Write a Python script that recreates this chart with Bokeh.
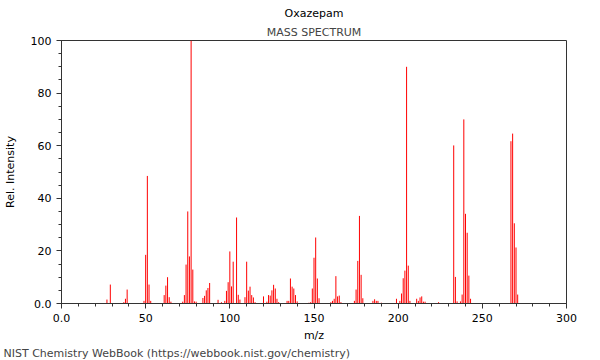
from bokeh.plotting import figure
from bokeh.models import Title, FixedTicker
from bokeh.embed import file_html
from bokeh.resources import INLINE

mz = [27, 29, 37, 38, 39, 49, 50, 51, 52, 53, 61, 62, 63, 64, 65,
      72, 73, 74, 75, 76, 77, 78, 79, 80, 84, 85, 86, 87, 88, 93, 95,
      97, 98, 99, 100, 101, 102, 104, 105, 106, 109, 110, 111, 112, 113, 114, 115,
      120, 122, 123, 124, 125, 126, 127, 128, 129, 134, 135, 136, 137, 138, 139, 140,
      147, 148, 149, 150, 151, 152, 153, 160, 161, 162, 163, 164, 165, 166,
      174, 175, 176, 177, 178, 179, 185, 186, 187, 188, 190,
      199, 201, 202, 203, 204, 205, 206, 207, 211, 212, 213, 214, 215, 216, 224,
      233, 234, 235, 237, 238, 239, 240, 241, 242, 243,
      267, 268, 269, 270, 271]
intensity = [1.5, 7.2, 0.5, 1.8, 5.3, 1.0, 18.5, 48.5, 7.2, 1.0, 3.2, 6.8, 10.0, 2.4, 0.7,
             0.7, 3.2, 14.8, 35.0, 17.9, 100, 12.9, 0.8, 0.7, 2.1, 2.9, 5.0, 5.9, 7.8, 1.4, 0.5,
             1.0, 4.8, 8.1, 19.8, 6.5, 15.9, 32.7, 3.3, 1.5, 2.4, 15.9, 4.9, 6.4, 3.2, 2.3, 0.5,
             2.7, 0.7, 3.2, 3.0, 5.0, 7.1, 5.7, 1.8, 0.5, 1.0, 1.0, 9.5, 6.4, 5.7, 3.2, 0.8,
             0.3, 0.5, 5.7, 17.4, 25.1, 9.5, 2.0, 0.5, 1.0, 1.8, 10.4, 2.7, 3.0, 0.5,
             1.0, 5.3, 16.2, 33.3, 10.9, 2.0, 1.0, 1.6, 1.0, 1.0, 0.3,
             1.8, 1.0, 3.8, 9.6, 12.5, 90.0, 14.4, 1.0, 1.8, 1.0, 2.3, 2.7, 0.7, 0.7, 0.5,
             60.1, 10.1, 0.8, 0.8, 3.4, 70.0, 34.1, 26.9, 10.6, 1.8,
             61.7, 64.6, 30.5, 21.3, 3.4]

x_ticks = [0, 50, 100, 150, 200, 250, 300]
x_labels = ["0.0", "50", "100", "150", "200", "250", "300"]
y_ticks = [0, 20, 40, 60, 80, 100]
y_labels = ["0.0", "20", "40", "60", "80", "100"]

FONT = "DejaVu Sans"

p = figure(width=598, height=359, x_range=(0, 300), y_range=(0, 100),
           output_backend="svg", toolbar_location=None,
           min_border_left=66, min_border_right=27, min_border_top=40,
           min_border_bottom=0, title="Oxazepam")
p.styles = {"margin-left": "-5px"}

p.title.text_font = FONT
p.title.text_font_size = "11px"
p.title.text_font_style = "normal"
p.title.align = "center"
p.title.text_color = "#000000"
p.title.standoff = 4
p.add_layout(Title(text="MASS SPECTRUM", align="center", text_font=FONT,
                   text_font_size="11px", text_font_style="normal", standoff=4), "above")

p.segment(x0=mz, y0=[0] * len(mz), x1=mz, y1=intensity, line_color="#ff0000",
          line_width=1)

p.xgrid.visible = False
p.ygrid.visible = False
p.outline_line_color = "#333333"
p.outline_line_width = 1

for ax in (p.xaxis[0], p.yaxis[0]):
    ax.axis_line_color = "#333333"
    ax.major_tick_line_color = "#333333"
    ax.minor_tick_line_color = "#333333"
    ax.major_tick_in = 0
    ax.major_tick_out = 5
    ax.minor_tick_in = 0
    ax.minor_tick_out = 3
    ax.major_label_text_font = FONT
    ax.major_label_text_font_size = "11px"
    ax.major_label_text_color = "#000000"
    ax.axis_label_text_font = FONT
    ax.axis_label_text_font_size = "11px"
    ax.axis_label_text_font_style = "normal"
    ax.axis_label_text_color = "#000000"

p.xaxis.ticker = FixedTicker(ticks=x_ticks, minor_ticks=list(range(0, 301, 10)))
p.xaxis.major_label_overrides = dict(zip(x_ticks, x_labels))
p.yaxis.ticker = FixedTicker(ticks=y_ticks, minor_ticks=list(range(0, 101, 5)))
p.yaxis.major_label_overrides = dict(zip(y_ticks, y_labels))
p.xaxis.axis_label = "m/z"
p.yaxis.axis_label = "Rel. Intensity"
p.xaxis.axis_label_standoff = 4
p.xaxis.major_label_standoff = 5
p.yaxis.axis_label_standoff = 11

p.add_layout(Title(text="NIST Chemistry WebBook (https://webbook.nist.gov/chemistry)",
                   align="left", offset=-58, text_font=FONT, text_font_size="11px",
                   text_font_style="normal", standoff=0), "below")

open("out.html", "w").write(file_html(p, INLINE))
